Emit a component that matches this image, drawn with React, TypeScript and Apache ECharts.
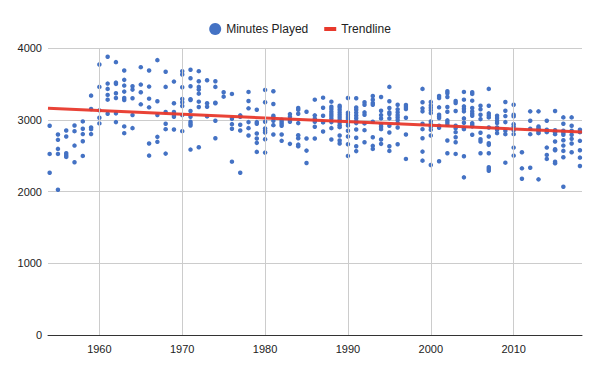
import React, { useEffect, useRef } from "react";
import * as echarts from "echarts";

const seasons: number[] = [
  1954, 1955, 1956, 1957, 1958, 1959, 1960, 1961, 1962, 1963, 1964, 1965, 1966, 1967, 1968, 1969,
  1970, 1971, 1972, 1973, 1974, 1975, 1976, 1977, 1978, 1979, 1980, 1981, 1982, 1983, 1984, 1985,
  1986, 1987, 1988, 1989, 1990, 1991, 1992, 1993, 1994, 1995, 1996, 1997, 1999, 2000, 2001, 2002,
  2003, 2004, 2005, 2006, 2007, 2008, 2009, 2010, 2011, 2012, 2013, 2014, 2015, 2016, 2017, 2018,
];

const minutesBySeason: number[][] = [
  [2916, 2524, 2262],
  [2795, 2720, 2594, 2524, 2024],
  [2850, 2766, 2533, 2505, 2482],
  [2920, 2841, 2640, 2407],
  [2977, 2874, 2800, 2701, 2496],
  [3336, 3150, 2893, 2869, 2800],
  [3770, 3458, 3131, 3028, 2949],
  [3878, 3504, 3430, 3346, 3280, 3084],
  [3803, 3518, 3500, 3369, 3303, 3089, 2967],
  [3686, 3556, 3476, 3392, 3303, 3275, 2907, 2813],
  [3467, 3420, 3299, 3065, 2883],
  [3733, 3490, 3383, 3215],
  [3686, 3462, 3294, 3173, 2668, 2500],
  [3831, 3257, 3065, 2762, 2692],
  [3668, 3458, 3107, 2944, 2869, 2528],
  [3532, 3229, 3107, 3070, 3042, 2865],
  [3677, 3630, 3453, 3290, 3243, 3191, 3065, 2841],
  [3696, 3579, 3467, 3285, 3275, 3121, 3042, 2972, 2944, 2920, 2584],
  [3677, 3537, 3458, 3420, 3364, 3252, 3177, 2617],
  [3551, 3229, 3182, 3047],
  [3537, 3458, 3238, 3229, 2986, 2743],
  [3383, 3322],
  [3360, 3014, 2939, 2874, 2416],
  [3061, 3042, 2930, 2850, 2262],
  [3388, 3262, 3159, 2967, 2883, 2781],
  [3140, 2967, 2944, 2809, 2738, 2678, 2552],
  [3416, 3243, 2972, 2879, 2846, 2823, 2729, 2542],
  [3397, 3219, 3056, 3033, 2986, 2925, 2795],
  [3000, 2972, 2944, 2916, 2795, 2706],
  [3079, 3042, 2995, 2972, 2664],
  [3163, 3140, 3084, 2953, 2785, 2743, 2654, 2631],
  [3112, 2738, 2570, 2398],
  [3280, 3061, 3014, 2972, 2902, 2738],
  [3308, 3168, 3056, 2963, 2837],
  [3252, 3182, 3149, 3112, 3079, 3051, 3019, 2967, 2883, 2724],
  [3196, 3173, 3140, 3103, 3070, 3037, 3005, 2963, 2925, 2897, 2781, 2710, 2668],
  [3303, 3098, 3070, 3037, 3009, 2963, 2920, 2846, 2767, 2659, 2496],
  [3300, 3172, 3140, 3100, 3060, 3020, 2980, 2953, 2864, 2750, 2630, 2563],
  [3243, 3210, 3103, 3070, 2949, 2855, 2687],
  [3332, 3280, 3233, 3210, 2972, 2757, 2636, 2594],
  [3318, 3126, 3065, 3019, 2935, 2902, 2869, 2724, 2664],
  [3458, 3257, 3163, 3103, 3079, 3019, 2916, 2823, 2631, 2566],
  [3210, 3145, 3103, 3065, 3033, 2995, 2953, 2893, 2659],
  [3205, 3177, 3149, 3028, 2795, 2454],
  [3430, 3243, 3159, 3117, 2944, 2869, 2743, 2556, 2430],
  [3248, 3201, 3168, 3131, 3093, 2977, 2939, 2902, 2860, 2781, 2370],
  [3332, 3303, 3173, 3070, 3047, 3023, 2916, 2888, 2421],
  [3397, 3369, 3318, 3177, 3112, 2991, 2963, 2930, 2710, 2533],
  [3262, 3233, 3121, 2916, 2883, 2827, 2757, 2687, 2524],
  [3388, 3280, 3187, 3154, 3117, 3019, 2958, 2883, 2869, 2491, 2197],
  [3383, 3360, 3266, 3163, 3117, 3084, 3056, 2953, 2930, 2907, 2790],
  [3196, 3145, 3070, 3009, 2818, 2729, 2696, 2533],
  [3430, 3196, 3089, 3061, 3033, 2893, 2767, 2673, 2650, 2533, 2337, 2314, 2290],
  [3056, 3023, 2986, 2953, 2893, 2860, 2813],
  [3248, 3126, 3051, 2967, 2846, 2799, 2402],
  [3210, 3070, 3047, 2939, 2902, 2855, 2799, 2612, 2500],
  [2547, 2323, 2178],
  [3117, 2986, 2874, 2799, 2332],
  [3117, 2907, 2883, 2860, 2837, 2813, 2169],
  [2986, 2860, 2827, 2612, 2510, 2454],
  [3121, 2855, 2827, 2799, 2696, 2589, 2575, 2416, 2393],
  [3033, 2944, 2846, 2818, 2790, 2715, 2640, 2566, 2477, 2066],
  [3033, 2916, 2846, 2790, 2734, 2668, 2547],
  [2860, 2827, 2706, 2575, 2472, 2355],
];

const trendYears: number[] = [1953.8, 2018.25];
const trendMinutes: number[] = [3160, 2830];

const xTickYears: number[] = [1960, 1970, 1980, 1990, 2000, 2010];
const yTicks: number[] = [0, 1000, 2000, 3000, 4000];

export default function App() {
  const ref = useRef<HTMLDivElement>(null);
  useEffect(() => {
    if (!ref.current) return;
    const chart = echarts.init(ref.current, undefined, { renderer: "svg" });
    const points: number[][] = [];
    seasons.forEach((s, i) => {
      minutesBySeason[i].forEach((m) => points.push([s, m]));
    });
    const trend = trendYears.map((y, i) => [y, trendMinutes[i]]);
    const font = "'Liberation Sans', Arial, sans-serif";
    chart.setOption({
      animation: false,
      backgroundColor: "#ffffff",
      textStyle: { fontFamily: font },
      grid: { left: 48, right: 18, top: 48, bottom: 36, containLabel: false },
      legend: {
        top: 18,
        left: "center",
        itemWidth: 12,
        itemHeight: 12,
        itemGap: 16,
        textStyle: { fontSize: 12, color: "#222222", fontFamily: font },
        data: [
          { name: "Minutes Played", icon: "circle" },
          { name: "Trendline", icon: "path://M0,0h12v4H0z" },
        ],
      },
      xAxis: {
        type: "value",
        min: trendYears[0],
        max: trendYears[1],
        splitLine: { show: false },
        axisTick: { show: false },
        axisLine: { show: true, onZero: false, lineStyle: { color: "#333333", width: 1 } },
        axisLabel: {
          customValues: xTickYears,
          formatter: (v: number) => String(v),
          fontSize: 11,
          color: "#222222",
          margin: 8,
          fontFamily: font,
        },
      },
      yAxis: {
        type: "value",
        min: yTicks[0],
        max: yTicks[yTicks.length - 1],
        interval: 1000,
        axisLine: { show: false },
        axisTick: { show: false },
        splitLine: { lineStyle: { color: "#cccccc", width: 1 } },
        axisLabel: {
          formatter: (v: number) => String(v),
          fontSize: 11,
          color: "#222222",
          margin: 6,
          fontFamily: font,
        },
      },
      series: [
        {
          name: "grid",
          type: "scatter",
          data: [],
          z: 1,
          silent: true,
          markLine: {
            silent: true,
            symbol: ["none", "none"],
            label: { show: false },
            lineStyle: { color: "#cccccc", width: 1, type: "solid" },
            data: xTickYears.map((y) => ({ xAxis: y })),
          },
        },
        {
          name: "Minutes Played",
          type: "scatter",
          data: points,
          symbolSize: 4.5,
          z: 3,
          itemStyle: { color: "#4472c4", opacity: 1 },
        },
        {
          name: "Trendline",
          type: "line",
          data: trend,
          symbol: "none",
          z: 4,
          itemStyle: { color: "#e8392c" },
          lineStyle: { color: "#e8392c", width: 3, opacity: 0.95 },
        },
      ],
    });
    return () => chart.dispose();
  }, []);
  return (
    <div
      ref={ref}
      style={{ position: "fixed", left: 0, top: 0, width: 600, height: 371 }}
    />
  );
}
